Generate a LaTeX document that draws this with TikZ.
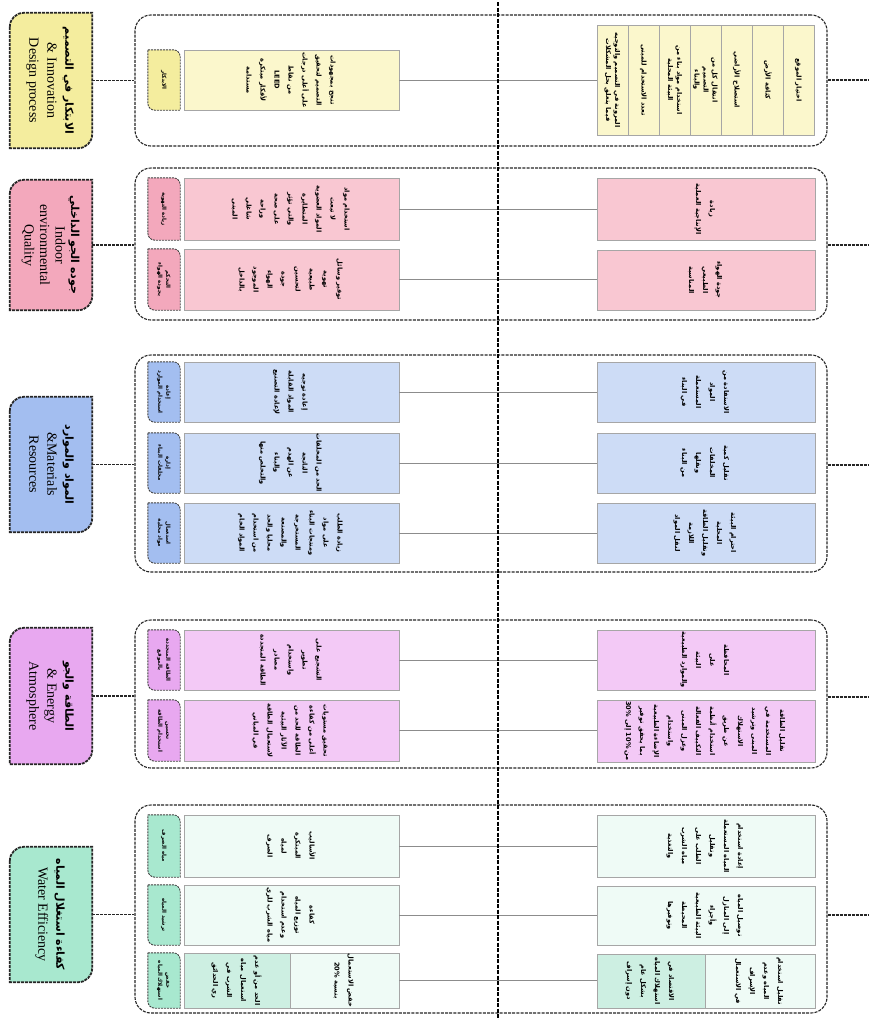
\documentclass[tikz,border=0pt]{standalone}
\usepackage{fontspec}
\usepackage{graphicx}
\TeXXeTstate=1
\newfontfamily\arabicfont[Script=Arabic]{DejaVu Sans}
\newfontfamily\serifen{Liberation Serif}
\usetikzlibrary{calc}
\pgfdeclarelayer{bg}
\pgfsetlayers{bg,main}
\newcommand\arln[1]{\beginR #1\endR}
\newcommand\rotcol[1]{\rotatebox{-90}{\begin{tabular}{@{}c@{}}#1\end{tabular}}}
\newcommand\arhead[1]{{\arabicfont\bfseries\fontsize{11}{18}\selectfont\arln{#1}}}
\definecolor{ylwH}{HTML}{F4ED9E}
\definecolor{ylwB}{HTML}{FBF7CC}
\definecolor{pnkH}{HTML}{F3A8BC}
\definecolor{pnkB}{HTML}{F9C7D2}
\definecolor{bluH}{HTML}{A3BEF0}
\definecolor{bluB}{HTML}{CDDCF6}
\definecolor{vioH}{HTML}{E8A8F0}
\definecolor{vioB}{HTML}{F3C9F6}
\definecolor{mntH}{HTML}{A8E8CF}
\definecolor{mntB}{HTML}{EFFBF6}
\definecolor{mntD}{HTML}{CDEFE2}
\tikzset{
 hdr/.style={inner sep=0pt, minimum width=82pt, font=\serifen\fontsize{14}{18}\selectfont},
 hdrline/.style={draw=black!85, line width=1.8pt, dash pattern=on 3pt off 1pt},
 cont/.style={draw=black!85, line width=1.1pt, dash pattern=on 3pt off 1.2pt, rounded corners=16pt, minimum width=692pt, inner sep=0pt},
 lbl/.style={inner sep=0pt, minimum width=32pt, font=\arabicfont\bfseries\fontsize{5.5}{8}\selectfont},
 lblline/.style={draw=black!75, line width=0.9pt, dash pattern=on 2pt off 1pt},
 cbox/.style={draw=black!35, line width=0.6pt, inner sep=0pt, font=\arabicfont\bfseries\fontsize{6.6}{14}\selectfont},
 colbox/.style={cbox, fill=ylwB, minimum width=31pt, minimum height=110pt, font=\arabicfont\bfseries\fontsize{6.6}{9}\selectfont},
 gline/.style={draw=black!45, line width=0.6pt},
 hconn/.style={draw=black!85, line width=1.8pt, dash pattern=on 3pt off 1pt},
 rconn/.style={draw=black!85, line width=1.3pt, dash pattern=on 3pt off 1pt},
 vline/.style={draw=black, line width=1.3pt, dash pattern=on 4pt off 1.5pt},
}
\newcommand\hdrshape[2]{%
 \begin{pgfonlayer}{bg}
 \path[hdrline, fill=#2] ([yshift=-14pt]#1.north west) arc[start angle=180,end angle=90,radius=14pt] -- (#1.north east) -- ([yshift=14pt]#1.south east) arc[start angle=0,end angle=-90,radius=14pt] -- (#1.south west) -- cycle;
 \end{pgfonlayer}}
\newcommand\lblshape[2]{%
 \begin{pgfonlayer}{bg}
 \path[lblline, fill=#2] (#1.north west) -- ([xshift=-7pt]#1.north east) arc[start angle=90,end angle=0,radius=7pt] -- (#1.south east) -- ([xshift=7pt]#1.south west) arc[start angle=270,end angle=180,radius=7pt] -- cycle;
 \end{pgfonlayer}}
\begin{document}
\begin{tikzpicture}[x=1pt,y=-1pt]
\useasboundingbox (0,0) rectangle (869,1020);
\begin{pgfonlayer}{bg}
\fill[white] (0,0) rectangle (869,1020);
\end{pgfonlayer}

% ---------- headers ----------
\node[hdr, minimum height=135pt] (h1) at (51,80.5) {\rotcol{\arhead{الابتكار في التصميم}\\ \& Innovation\\ Design process}};
\hdrshape{h1}{ylwH}
\node[hdr, minimum height=130pt, font=\serifen\fontsize{14}{15.5}\selectfont] (h2) at (51,245) {\rotcol{\arhead{جوده الجو الداخلي}\\ Indoor\\ environmental\\ Quality}};
\hdrshape{h2}{pnkH}
\node[hdr, minimum height=135pt] (h3) at (51,464.5) {\rotcol{\arhead{المواد والموارد}\\ \&Materials\\ Resources}};
\hdrshape{h3}{bluH}
\node[hdr, minimum height=136pt] (h4) at (51,696) {\rotcol{\arhead{الطاقة والجو}\\ \& Energy\\ Atmosphere}};
\hdrshape{h4}{vioH}
\node[hdr, minimum height=135pt] (h5) at (51,914.5) {\rotcol{\arhead{كفاءة استغلال المياه}\\ Water Efficiency}};
\hdrshape{h5}{mntH}

% ---------- containers ----------
\node[cont, minimum height=131pt] (c1) at (481,80.5) {};
\node[cont, minimum height=152pt] (c2) at (481,244) {};
\node[cont, minimum height=217pt] (c3) at (481,463.5) {};
\node[cont, minimum height=148pt] (c4) at (481,694) {};
\node[cont, minimum height=208pt] (c5) at (481,909) {};

% ---------- row 1 ----------
\node[lbl, minimum height=60pt] (a11) at (164,80) {\rotcol{\arln{الابتكار}}};
\lblshape{a11}{ylwH}
\node[cbox, fill=ylwB, minimum width=215pt, minimum height=60pt] (l11) at (291.5,80) {\rotcol{\arln{تنجح بمجهودات}\\ \arln{التصميم لتحقيق}\\ \arln{على أعلى درجات}\\ \arln{من نقاط}\\ \arln{\beginL LEED\endL}\\ \arln{لأفكار مبتكرة}\\ \arln{مستدامة}}};
\node[colbox] (r1a) at (798.5,80) {\rotcol{\arln{اختيار الموقع}}};
\node[colbox] (r1b) at (767.5,80) {\rotcol{\arln{كثافة الأرض}}};
\node[colbox] (r1c) at (736.5,80) {\rotcol{\arln{استصلاح الأراضي}}};
\node[colbox] (r1d) at (705.5,80) {\rotcol{\arln{انتقال كل من}\\ \arln{التصميم}\\ \arln{والبناء}}};
\node[colbox] (r1e) at (674.5,80) {\rotcol{\arln{استخدام مواد بناء من}\\ \arln{البيئة المحلية}}};
\node[colbox] (r1f) at (643.5,80) {\rotcol{\arln{تعدد الاستخدام للمبنى}}};
\node[colbox] (r1g) at (612.5,80) {\rotcol{\arln{المرونة في التصميم والتوجيه}\\ \arln{فيما يتعلق بحل المشكلات}}};
\draw[gline] (l11.east) -- (l11.east -| r1g.west);

% ---------- row 2 ----------
\node[lbl, minimum height=62pt] (a21) at (164,209) {\rotcol{\arln{زيادة التهوية}}};
\lblshape{a21}{pnkH}
\node[lbl, minimum height=61pt] (a22) at (164,279.5) {\rotcol{\arln{التحكم}\\ \arln{بجودة الهواء}}};
\lblshape{a22}{pnkH}
\node[cbox, fill=pnkB, minimum width=215pt, minimum height=62pt] (l21) at (291.5,209) {\rotcol{\arln{استخدام مواد}\\ \arln{لا تبعث}\\ \arln{المواد العضوية}\\ \arln{المتطايرة}\\ \arln{والتي تؤثر}\\ \arln{على صحة}\\ \arln{وراحة}\\ \arln{شاغلي}\\ \arln{المبنى}}};
\node[cbox, fill=pnkB, minimum width=215pt, minimum height=61pt] (l22) at (291.5,279.5) {\rotcol{\arln{توفير وسائل}\\ \arln{تهوية}\\ \arln{طبيعية}\\ \arln{لتحسين}\\ \arln{جودة}\\ \arln{الهواء}\\ \arln{الموجود}\\ \arln{بالداخل}}};
\node[cbox, fill=pnkB, minimum width=218pt, minimum height=62pt] (r21) at (706,209) {\rotcol{\arln{زيادة}\\ \arln{الإنتاجية العملية}}};
\node[cbox, fill=pnkB, minimum width=218pt, minimum height=60pt] (r22) at (706,280) {\rotcol{\arln{جودة الهواء}\\ \arln{الطبيعي}\\ \arln{المناسبة}}};
\draw[gline] (l21.east) -- (l21.east -| r21.west);
\draw[gline] (l22.east) -- (l22.east -| r22.west);

% ---------- row 3 ----------
\node[lbl, minimum height=60pt] (a31) at (164,392) {\rotcol{\arln{إعادة}\\ \arln{استخدام الموارد}}};
\lblshape{a31}{bluH}
\node[lbl, minimum height=60pt] (a32) at (164,463) {\rotcol{\arln{إدارة}\\ \arln{مخلفات البناء}}};
\lblshape{a32}{bluH}
\node[lbl, minimum height=60pt] (a33) at (164,533) {\rotcol{\arln{استعمال}\\ \arln{مواد محلية}}};
\lblshape{a33}{bluH}
\node[cbox, fill=bluB, minimum width=215pt, minimum height=60pt] (l31) at (291.5,392) {\rotcol{\arln{إعادة توجيه}\\ \arln{المواد القابلة}\\ \arln{لإعادة التصنيع}}};
\node[cbox, fill=bluB, minimum width=215pt, minimum height=60pt] (l32) at (291.5,463) {\rotcol{\arln{الحد من المخلفات}\\ \arln{الناتجة}\\ \arln{عن الهدم}\\ \arln{والبناء}\\ \arln{والتخلص منها}}};
\node[cbox, fill=bluB, minimum width=215pt, minimum height=60pt] (l33) at (291.5,533) {\rotcol{\arln{زيادة الطلب}\\ \arln{على مواد}\\ \arln{ومنتجات البناء}\\ \arln{المستخرجة}\\ \arln{والمصنعة}\\ \arln{محليا والحد}\\ \arln{من استخدام}\\ \arln{المواد الخام}}};
\node[cbox, fill=bluB, minimum width=218pt, minimum height=60pt] (r31) at (706,392) {\rotcol{\arln{الاستفادة من}\\ \arln{المواد}\\ \arln{المستعملة}\\ \arln{في البناء}}};
\node[cbox, fill=bluB, minimum width=218pt, minimum height=60pt] (r32) at (706,463) {\rotcol{\arln{تقليل كمية}\\ \arln{المخلفات}\\ \arln{ونقلها}\\ \arln{من البناء}}};
\node[cbox, fill=bluB, minimum width=218pt, minimum height=60pt] (r33) at (706,533) {\rotcol{\arln{احترام البيئة}\\ \arln{المحلية}\\ \arln{وتقليل الطاقة}\\ \arln{اللازمة}\\ \arln{لنقل المواد}}};
\draw[gline] (l31.east) -- (l31.east -| r31.west);
\draw[gline] (l32.east) -- (l32.east -| r32.west);
\draw[gline] (l33.east) -- (l33.east -| r33.west);

% ---------- row 4 ----------
\node[lbl, minimum height=60pt] (a41) at (164,660) {\rotcol{\arln{الطاقة المتجددة}\\ \arln{بالموقع}}};
\lblshape{a41}{vioH}
\node[lbl, minimum height=61pt] (a42) at (164,730.5) {\rotcol{\arln{تحسين}\\ \arln{استخدام الطاقة}}};
\lblshape{a42}{vioH}
\node[cbox, fill=vioB, minimum width=215pt, minimum height=60pt] (l41) at (291.5,660) {\rotcol{\arln{التشجيع على}\\ \arln{تطوير}\\ \arln{واستخدام}\\ \arln{مصادر}\\ \arln{الطاقة المتجددة}}};
\node[cbox, fill=vioB, minimum width=215pt, minimum height=61pt] (l42) at (291.5,730.5) {\rotcol{\arln{تحقيق مستويات}\\ \arln{أعلى من كفاءة}\\ \arln{الطاقة للحد من}\\ \arln{الآثار البيئية}\\ \arln{لاستعمال الطاقة}\\ \arln{في المباني}}};
\node[cbox, fill=vioB, minimum width=218pt, minimum height=60pt] (r41) at (706,660) {\rotcol{\arln{المحافظة}\\ \arln{على}\\ \arln{البيئة}\\ \arln{والموارد الطبيعية}}};
\node[cbox, fill=vioB, minimum width=218pt, minimum height=62pt] (r42) at (706,731) {\rotcol{\arln{تقليل الطاقة}\\ \arln{المستخدمة في}\\ \arln{المبنى وترشيد}\\ \arln{الاستهلاك}\\ \arln{عن طريق}\\ \arln{استخدام أنظمة}\\ \arln{التكييف الفعالة}\\ \arln{وعزل المبنى}\\ \arln{واستخدام}\\ \arln{الإضاءة الطبيعية}\\ \arln{بما يحقق توفير}\\ \arln{من 10\% إلى 30\%}}};
\draw[gline] (l41.east) -- (l41.east -| r41.west);
\draw[gline] (l42.east) -- (l42.east -| r42.west);

% ---------- row 5 ----------
\node[lbl, minimum height=62pt] (a51) at (164,846) {\rotcol{\arln{مياه الصرف}}};
\lblshape{a51}{mntH}
\node[lbl, minimum height=60pt] (a52) at (164,915) {\rotcol{\arln{ترشيد المياه}}};
\lblshape{a52}{mntH}
\node[lbl, minimum height=55pt] (a53) at (164,980.5) {\rotcol{\arln{خفض}\\ \arln{استهلاك المياه}}};
\lblshape{a53}{mntH}
\node[cbox, fill=mntB, minimum width=215pt, minimum height=62pt] (l51) at (291.5,846) {\rotcol{\arln{الأساليب}\\ \arln{المبتكرة}\\ \arln{لمياه}\\ \arln{الصرف}}};
\node[cbox, fill=mntB, minimum width=215pt, minimum height=60pt] (l52) at (291.5,915) {\rotcol{\arln{كفاءة}\\ \arln{توزيع المياه}\\ \arln{وعدم استخدام}\\ \arln{مياه الشرب للري}}};
\node[cbox, fill=mntD, minimum width=106pt, minimum height=55pt] (l53a) at (237,980.5) {\rotcol{\arln{الحد من أو عدم}\\ \arln{استعمال مياه}\\ \arln{الشرب في}\\ \arln{ري الحدائق}}};
\node[cbox, fill=mntB, minimum width=109pt, minimum height=55pt] (l53b) at (344.5,980.5) {\rotcol{\arln{خفض الاستعمال}\\ \arln{بنسبة 20\%}}};
\node[cbox, fill=mntB, minimum width=218pt, minimum height=62pt] (r51) at (706,846) {\rotcol{\arln{إعادة استخدام}\\ \arln{المياه المستعملة}\\ \arln{وتقليل}\\ \arln{الطلب على}\\ \arln{مياه الشرب}\\ \arln{والتغذية}}};
\node[cbox, fill=mntB, minimum width=218pt, minimum height=59pt] (r52) at (706,915.5) {\rotcol{\arln{توصيل المياه}\\ \arln{إلى المنازل}\\ \arln{وأجزاء}\\ \arln{البيئة الطبيعية}\\ \arln{المحيطة}\\ \arln{وتوفيرها}}};
\node[cbox, fill=mntD, minimum width=108pt, minimum height=54pt] (r53a) at (651,981) {\rotcol{\arln{الاقتصاد في}\\ \arln{استهلاك المياه}\\ \arln{بشكل عام}\\ \arln{دون إسراف}}};
\node[cbox, fill=mntB, minimum width=110pt, minimum height=54pt] (r53b) at (760,981) {\rotcol{\arln{تقليل استخدام}\\ \arln{المياه وعدم}\\ \arln{الإسراف}\\ \arln{في الاستعمال}}};
\draw[gline] (l51.east) -- (l51.east -| r51.west);
\draw[gline] (l52.east) -- (l52.east -| r52.west);
\draw[gline] (l53b.east) -- (l53b.east -| r53a.west);

% ---------- header connectors ----------
\draw[hconn] (h1.east) -- (h1.east -| c1.west);
\draw[hconn] (h2.east) -- (h2.east -| c2.west);
\draw[hconn] (h3.east) -- (h3.east -| c3.west);
\draw[hconn] (h4.east) -- (h4.east -| c4.west);
\draw[hconn] (h5.east) -- (h5.east -| c5.west);

% ---------- right connectors ----------
\coordinate (e1) at (869,80);
\coordinate (e2) at (869,245);
\coordinate (e3) at (869,465);
\coordinate (e4) at (869,697);
\coordinate (e5) at (869,915);
\draw[rconn] (e1 -| c1.east) -- (e1);
\draw[rconn] (e2 -| c2.east) -- (e2);
\draw[rconn] (e3 -| c3.east) -- (e3);
\draw[rconn] (e4 -| c4.east) -- (e4);
\draw[rconn] (e5 -| c5.east) -- (e5);

% ---------- centre line ----------
\coordinate (vt) at (498,2);
\coordinate (vb) at (498,1020);
\draw[vline] (vt) -- (vb);
\end{tikzpicture}
\end{document}
